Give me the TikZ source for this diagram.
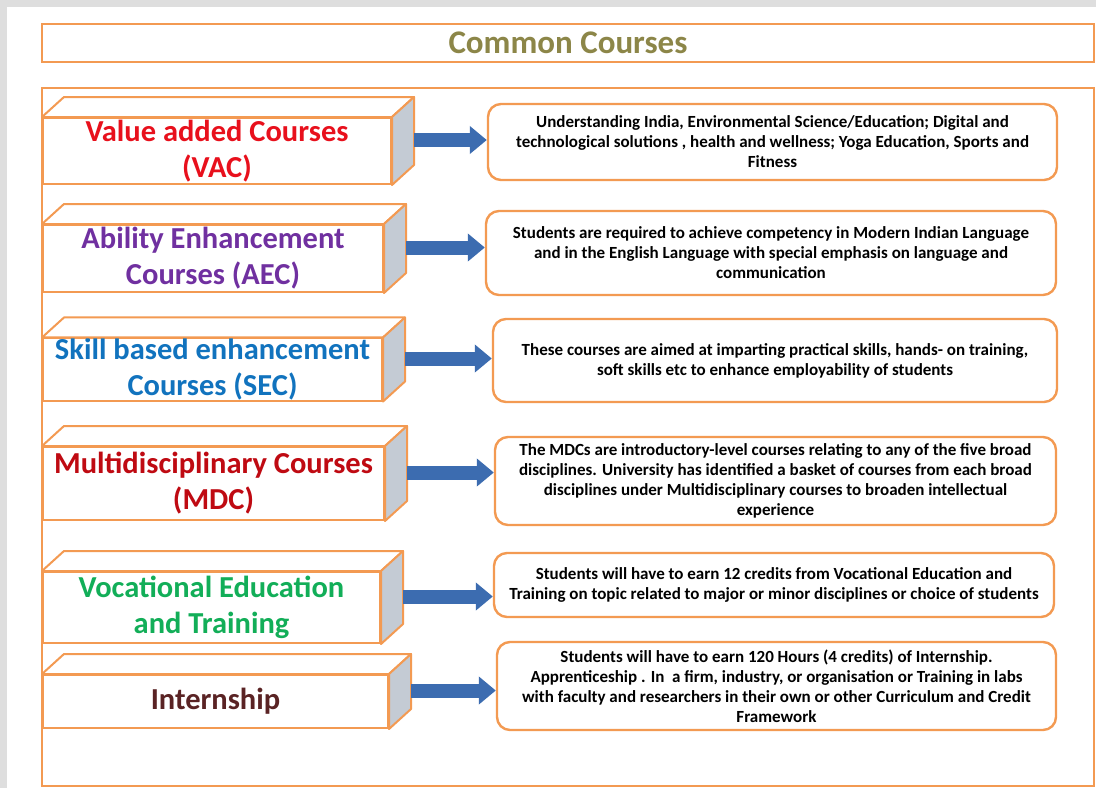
\documentclass[tikz,border=0pt]{standalone}
\usepackage{fontspec}
\setmainfont{Carlito}
\usetikzlibrary{calc,arrows.meta}

\definecolor{frameorange}{HTML}{F39A52}
\definecolor{sidegray}{HTML}{C4CBD4}
\definecolor{arrowblue}{HTML}{3C6CB0}
\definecolor{titleolive}{HTML}{8C8648}
\definecolor{vacred}{HTML}{E8101C}
\definecolor{aecpurple}{HTML}{7030A0}
\definecolor{secblue}{HTML}{1173BE}
\definecolor{mdcred}{HTML}{BF0A12}
\definecolor{vetgreen}{HTML}{12AE58}
\definecolor{intbrown}{HTML}{5A2324}
\definecolor{pagegray}{HTML}{DEDEDE}

\tikzset{
  coursebox/.style={rectangle, draw=frameorange, line width=2pt, fill=white, align=center,
    inner sep=0pt, font=\bfseries\fontsize{30.5}{36}\selectfont},
  infobox/.style={rectangle, rounded corners=13pt, draw=frameorange, line width=2.4pt, fill=white,
    align=center, inner sep=0pt, font=\bfseries\fontsize{17}{20}\selectfont},
  linkarrow/.style={line width=14pt, draw=arrowblue, -{Triangle[length=17pt,width=27pt]}},
}

% top and side faces of a course box
\newcommand{\boxfaces}[1]{%
  \filldraw[fill=white, draw=frameorange, line width=2pt, line join=round]
    (#1.north west) -- ++(22,-20) -- ($(#1.north east)+(22,-20)$) -- (#1.north east) -- cycle;
  \filldraw[fill=sidegray, draw=frameorange, line width=2pt, line join=round]
    (#1.north east) -- ++(22,-20) -- ($(#1.south east)+(22,-20)$) -- (#1.south east) -- cycle;
  \coordinate (#1-out) at ($(#1.east)+(22,-11)$);
}

\begin{document}
\begin{tikzpicture}[x=1pt,y=-1pt]
    \useasboundingbox (0,0) rectangle (1096,788);
    % page
    \fill[pagegray] (0,0) rectangle (1096,788);
    \fill[white] (7,7) rectangle (1096,788);

    % title and frame
    \node[rectangle, draw=frameorange, line width=2.4pt, minimum width=1052pt, minimum height=38pt,
      font=\bfseries\fontsize{33}{36}\selectfont, text=titleolive] (title) at (568,43) {Common Courses};
    \draw[frameorange, line width=2.4pt] (42,88) rectangle (1094,786);

    % course boxes
    \node[coursebox, minimum width=348pt, minimum height=66pt, text=vacred] (vac) at (217,151)
      {Value added Courses\\(VAC)};
    \node[coursebox, minimum width=340pt, minimum height=67pt, text=aecpurple] (aec) at (213,258.5)
      {Ability Enhancement\\Courses (AEC)};
    \node[coursebox, minimum width=339pt, minimum height=61pt, text=secblue] (sec) at (212.5,369.5)
      {Skill based enhancement\\Courses (SEC)};
    \node[coursebox, minimum width=341pt, minimum height=73pt, text=mdcred] (mdc) at (213.5,483.5)
      {Multidisciplinary Courses\\(MDC)};
    \node[coursebox, minimum width=337pt, minimum height=71pt, text=vetgreen] (vet) at (211.5,607.5)
      {Vocational Education\\and Training};
    \node[coursebox, minimum width=345pt, minimum height=53pt, text=intbrown] (int) at (215.5,701.5)
      {Internship};
    \boxfaces{vac}
    \boxfaces{aec}
    \boxfaces{sec}
    \boxfaces{mdc}
    \boxfaces{vet}
    \boxfaces{int}

    % descriptions
    \node[infobox, minimum width=569pt, minimum height=76pt] (vacinfo) at (772.5,142)
      {Understanding India, Environmental Science/Education; Digital and\\
       technological solutions , health and wellness; Yoga Education, Sports and\\Fitness};
    \node[infobox, minimum width=570pt, minimum height=84pt] (aecinfo) at (771,253)
      {Students are required to achieve competency in Modern Indian Language\\
       and in the English Language with special emphasis on language and\\communication};
    \node[infobox, minimum width=564pt, minimum height=83pt] (secinfo) at (775,360.5)
      {These courses are aimed at imparting practical skills, hands- on training,\\
       soft skills etc to enhance employability of students};
    \node[infobox, minimum width=561pt, minimum height=88pt] (mdcinfo) at (775.5,481)
      {The MDCs are introductory-level courses relating to any of the five broad\\
       disciplines. University has identified a basket of courses from each broad\\
       disciplines under Multidisciplinary courses to broaden intellectual\\experience};
    \node[infobox, minimum width=560pt, minimum height=64pt] (vetinfo) at (774,585)
      {Students will have to earn 12 credits from Vocational Education and\\
       Training on topic related to major or minor disciplines or choice of students};
    \node[infobox, minimum width=559pt, minimum height=88pt] (intinfo) at (776.5,686)
      {Students will have to earn 120 Hours (4 credits) of Internship.\\
       Apprenticeship . In~~a firm, industry, or organisation or Training in labs\\
       with faculty and researchers in their own or other Curriculum and Credit\\Framework};

    % arrows
    \draw[linkarrow] (vac-out) -- (vac-out -| vacinfo.west);
    \draw[linkarrow] (aec-out) -- (aec-out -| aecinfo.west);
    \draw[linkarrow] (sec-out) -- (sec-out -| secinfo.west);
    \draw[linkarrow] (mdc-out) -- (mdc-out -| mdcinfo.west);
    \draw[linkarrow] (vet-out) -- (vet-out -| vetinfo.west);
    \draw[linkarrow] (int-out) -- (int-out -| intinfo.west);
\end{tikzpicture}
\end{document}
